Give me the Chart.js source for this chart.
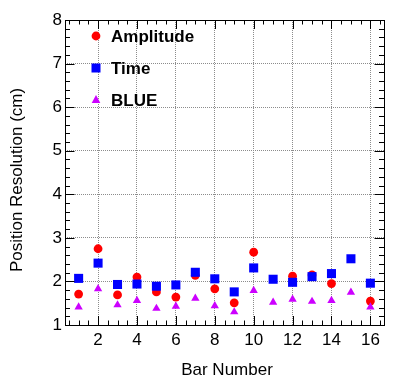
<!DOCTYPE html>
<html>
<head>
<meta charset="utf-8">
<script src="https://cdn.jsdelivr.net/npm/chart.js@4.4.0/dist/chart.umd.min.js"></script>
<style>
  html, body { margin: 0; padding: 0; background: #fff; }
  #wrap { width: 406px; height: 388px; }
</style>
</head>
<body>
<div id="wrap"><canvas id="c" width="406" height="388"></canvas></div>
<script>
const bars = [1, 2, 3, 4, 5, 6, 7, 8, 9, 10, 11, 12, 13, 14, 15, 16];
const amplitude = [1.71, 2.75, 1.69, 2.10, 1.76, 1.64, 2.14, 1.83, 1.51, 2.67, null, 2.12, 2.15, 1.95, null, 1.55];
const timeRes = [2.07, 2.42, 1.93, 1.94, 1.89, 1.92, 2.21, 2.06, 1.76, 2.31, 2.05, 1.98, 2.11, 2.18, 2.52, 1.96];
const blueRes = [1.41, 1.83, 1.46, 1.56, 1.38, 1.43, 1.61, 1.44, 1.30, 1.79, 1.52, 1.59, 1.54, 1.56, 1.75, 1.41];
const xTicks = [2, 4, 6, 8, 10, 12, 14, 16];
const yTicks = [1, 2, 3, 4, 5, 6, 7, 8];

const FONT = "'Liberation Sans', Arial, sans-serif";

function toPoints(vals) {
  return bars.map((b, i) => ({ x: b, y: vals[i] }));
}

// frame, inside ticks, legend and axis titles (ROOT style)
const rootFrame = {
  id: "rootFrame",
  afterDraw(chart) {
    const ctx = chart.ctx;
    const a = chart.chartArea;
    const xs = chart.scales.x;
    const ys = chart.scales.y;
    ctx.save();
    ctx.strokeStyle = "#000";
    ctx.lineWidth = 1;
    ctx.beginPath();
    // x ticks every 0.5
    for (let k = 1; k <= 33; k++) {
      const v = k / 2;
      const px = Math.round(xs.getPixelForValue(v)) + 0.5;
      const len = v % 2 === 0 ? 9 : 4.5;
      ctx.moveTo(px, a.bottom);
      ctx.lineTo(px, a.bottom - len);
      ctx.moveTo(px, a.top);
      ctx.lineTo(px, a.top + len);
    }
    // y ticks every 0.2
    for (let k = 0; k <= 35; k++) {
      const v = 1 + k * 0.2;
      const py = Math.round(ys.getPixelForValue(v)) + 0.5;
      const len = k % 5 === 0 ? 9.5 : 5;
      ctx.moveTo(a.left, py);
      ctx.lineTo(a.left + len, py);
      ctx.moveTo(a.right, py);
      ctx.lineTo(a.right - len, py);
    }
    ctx.stroke();
    ctx.strokeRect(Math.round(a.left) + 0.5, Math.round(a.top) + 0.5,
      Math.round(a.right - a.left), Math.round(a.bottom - a.top));

    // legend
    const lx = a.left + 31;
    const rows = [
      { label: "Amplitude", y: a.top + 16, shape: "circle", color: "#ff0000" },
      { label: "Time", y: a.top + 48, shape: "rect", color: "#0000ff" },
      { label: "BLUE", y: a.top + 80, shape: "triangle", color: "#cc00ff" },
    ];
    rows.forEach((r) => {
      ctx.fillStyle = r.color;
      ctx.beginPath();
      if (r.shape === "circle") {
        ctx.arc(lx, r.y, 4.4, 0, Math.PI * 2);
      } else if (r.shape === "rect") {
        ctx.rect(lx - 4.5, r.y - 4.5, 9, 9);
      } else {
        ctx.moveTo(lx, r.y - 5);
        ctx.lineTo(lx + 4.3, r.y + 3);
        ctx.lineTo(lx - 4.3, r.y + 3);
        ctx.closePath();
      }
      ctx.fill();
      ctx.fillStyle = "#000";
      ctx.font = "bold 17px " + FONT;
      ctx.textAlign = "left";
      ctx.textBaseline = "middle";
      ctx.fillText(r.label, lx + 15, r.y + 1);
    });

    // axis titles
    ctx.fillStyle = "#000";
    ctx.font = "17px " + FONT;
    ctx.textAlign = "center";
    ctx.textBaseline = "middle";
    ctx.fillText("Bar Number", 227, 370);
    ctx.translate(17, 180);
    ctx.rotate(-Math.PI / 2);
    ctx.fillText("Position Resolution (cm)", 0, 0);
    ctx.restore();
  },
};

const ctx = document.getElementById("c").getContext("2d");
new Chart(ctx, {
  type: "scatter",
  data: {
    datasets: [
      {
        label: "Amplitude",
        data: toPoints(amplitude),
        pointStyle: "circle",
        pointRadius: 4.4,
        backgroundColor: "#ff0000",
        borderWidth: 0,
        order: 2,
      },
      {
        label: "Time",
        data: toPoints(timeRes),
        pointStyle: "rect",
        pointRadius: 6.4,
        backgroundColor: "#0000ff",
        borderWidth: 0,
        order: 1,
      },
      {
        label: "BLUE",
        data: toPoints(blueRes),
        pointStyle: "triangle",
        pointRadius: 4.8,
        backgroundColor: "#cc00ff",
        borderWidth: 0,
        order: 0,
      },
    ],
  },
  options: {
    responsive: false,
    animation: false,
    devicePixelRatio: 1,
    layout: { padding: { top: 20, right: 22, left: 0, bottom: 0 } },
    plugins: {
      legend: { display: false },
      tooltip: { enabled: false },
    },
    scales: {
      x: {
        type: "linear",
        min: 0.3,
        max: 16.7,
        afterBuildTicks: (axis) => {
          axis.ticks = xTicks.map((v) => ({ value: v }));
        },
        afterFit: (s) => {
          s.height = 63;
        },
        grid: { color: "#8c8c8c", lineWidth: 1, drawTicks: false },
        border: { display: false, dash: [1, 1] },
        ticks: {
          autoSkip: false,
          maxRotation: 0,
          padding: 5,
          color: "#000",
          font: { family: FONT, size: 17 },
        },
      },
      y: {
        min: 1,
        max: 8,
        afterBuildTicks: (axis) => {
          axis.ticks = yTicks.map((v) => ({ value: v }));
        },
        afterFit: (s) => {
          s.width = 65;
        },
        grid: { color: "#8c8c8c", lineWidth: 1, drawTicks: false },
        border: { display: false, dash: [1, 1] },
        ticks: {
          padding: 3,
          color: "#000",
          font: { family: FONT, size: 17 },
        },
      },
    },
  },
  plugins: [rootFrame],
});
</script>
</body>
</html>
